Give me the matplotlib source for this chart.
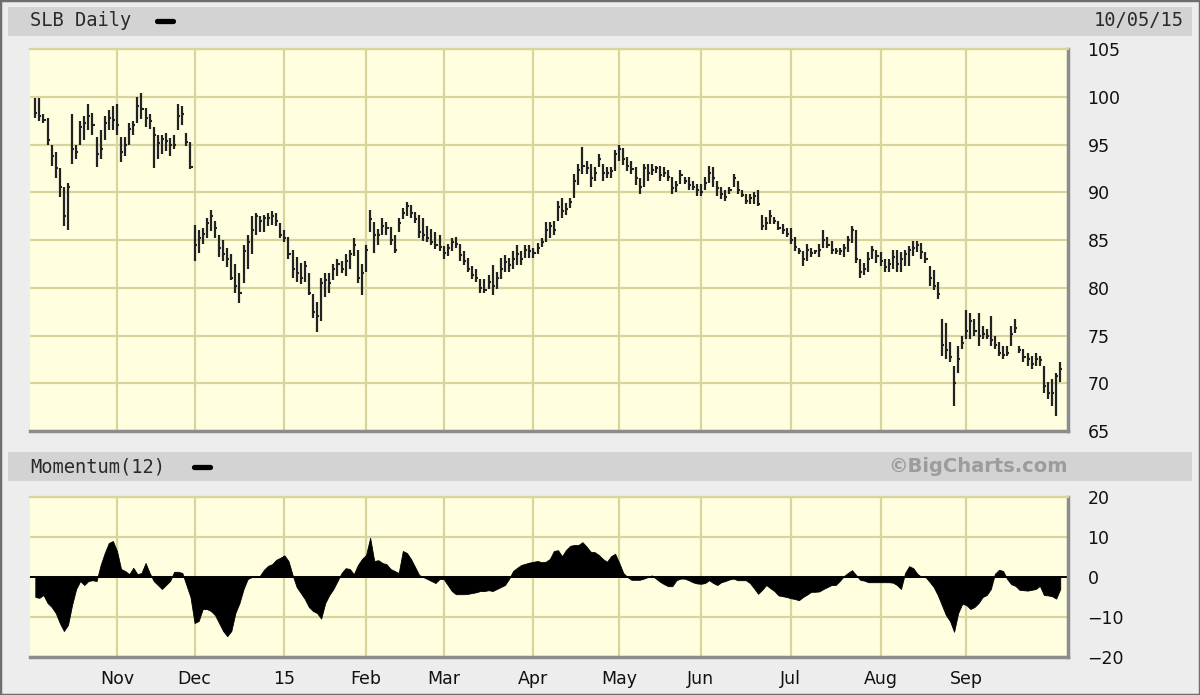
import matplotlib
matplotlib.use("Agg")
import matplotlib.pyplot as plt
import numpy as np
import pandas as pd
from matplotlib.patches import Rectangle
from matplotlib.lines import Line2D

# trading days on the chart, exchange holidays removed
holidays = ["2014-11-27", "2014-12-25", "2015-01-01", "2015-01-19", "2015-02-16",
            "2015-04-03", "2015-05-25", "2015-07-03", "2015-09-07"]
days = pd.bdate_range("2014-10-06", "2015-10-05")
days = days[~days.isin(pd.to_datetime(holidays))]

# daily bars, one row per month
high = [99.9, 99.9, 98.2, 97.8, 95.0, 94.2, 92.5, 90.5, 91.0, 98.2, 95.0, 97.5, 98.0, 99.2, 98.3, 95.8, 96.5, 98.0, 98.6, 99.0,
        99.2, 95.8, 95.8, 97.2, 97.5, 100.0, 100.4, 98.8, 98.2, 96.8, 96.0, 96.0, 96.2, 95.7, 96.0, 99.2, 99.0, 96.2, 95.3,
        86.6, 86.0, 86.3, 87.3, 88.1, 87.0, 85.5, 85.0, 84.2, 83.5, 82.5, 81.5, 84.5, 85.5, 87.5, 87.8, 87.5, 87.6, 87.8, 88.0, 87.8, 86.8,
        86.0, 85.3, 84.0, 83.2, 82.6, 82.8, 81.5, 79.3, 78.5, 81.0, 81.5, 81.5, 82.5, 83.0, 82.8, 83.5, 84.0, 85.2, 84.0, 82.5,
        84.5, 88.1, 86.9, 86.2, 87.3, 86.9, 86.4, 85.5, 87.3, 88.3, 89.0, 88.7, 87.9, 87.6, 87.3, 86.5, 86.2, 85.8, 85.5,
        84.4, 84.6, 85.2, 85.3, 84.6, 83.8, 83.1, 82.3, 82.0, 80.9, 80.9, 81.3, 82.4, 81.6, 83.1, 83.4, 83.1, 83.8, 84.5, 83.8, 84.5, 84.5,
        84.2, 84.7, 85.2, 86.9, 86.9, 87.0, 89.1, 89.4, 88.9, 89.4, 91.9, 93.0, 94.7, 93.3, 93.0, 92.6, 94.0, 93.0, 92.6, 92.6, 94.4,
        94.9, 94.6, 93.7, 93.3, 92.6, 91.5, 93.0, 93.0, 93.0, 92.8, 92.8, 92.6, 92.3, 91.6, 91.2, 92.3, 91.6, 91.6, 91.2, 90.9,
        90.9, 91.6, 92.8, 92.6, 91.2, 90.5, 90.2, 90.5, 91.9, 91.2, 90.2, 89.8, 89.8, 90.0, 90.2, 87.6, 87.4, 88.1, 87.4, 87.0, 86.7, 86.3,
        86.3, 85.3, 84.2, 83.9, 84.6, 84.2, 84.0, 84.6, 86.0, 85.3, 84.9, 84.2, 84.2, 84.6, 85.4, 86.5, 86.0, 83.0, 82.6, 83.7, 84.4, 84.0,
        83.7, 83.0, 83.0, 84.0, 84.0, 83.7, 84.0, 84.4, 84.9, 84.9, 84.7, 83.7, 82.3, 81.9, 80.6, 76.7, 76.3, 74.3, 71.8, 73.9, 75.0,
        77.7, 77.4, 76.7, 77.4, 76.0, 75.7, 77.0, 75.0, 74.3, 73.9, 73.9, 76.0, 76.7, 73.9, 73.6, 73.2, 72.9, 73.2, 72.9, 71.8, 70.1,
        70.4, 71.1, 72.2]
low = [97.8, 97.5, 97.3, 95.0, 92.8, 91.5, 89.5, 86.5, 86.0, 93.0, 93.5, 95.0, 95.5, 96.5, 96.0, 92.6, 93.5, 95.5, 96.5, 96.5,
       96.0, 93.2, 93.8, 95.0, 96.0, 97.3, 97.7, 96.8, 96.6, 92.5, 93.5, 94.0, 94.3, 93.8, 94.5, 96.5, 97.0, 94.8, 92.4,
       82.8, 83.6, 84.6, 85.2, 85.9, 85.2, 83.2, 82.8, 82.2, 80.8, 79.5, 78.4, 80.5, 82.0, 83.5, 85.5, 85.8, 85.8, 86.5, 86.6, 86.5, 85.2,
       84.8, 83.0, 81.0, 80.6, 80.4, 80.6, 79.2, 76.8, 75.4, 76.5, 79.0, 79.5, 80.8, 81.2, 81.5, 81.2, 82.0, 83.3, 80.5, 79.2,
       81.7, 85.8, 83.6, 84.5, 85.5, 85.5, 84.5, 83.6, 85.8, 87.2, 87.5, 87.3, 86.8, 85.2, 84.9, 84.8, 84.5, 84.1, 83.9,
       83.0, 83.3, 83.8, 84.2, 82.8, 82.4, 81.6, 80.9, 80.6, 79.5, 79.4, 79.9, 79.2, 79.9, 80.9, 81.6, 81.6, 82.0, 82.4, 82.4, 83.1, 83.1,
       83.1, 83.5, 84.3, 84.8, 85.2, 85.5, 87.0, 87.3, 87.6, 88.4, 89.4, 90.8, 91.9, 91.9, 90.5, 91.2, 92.6, 91.2, 91.5, 91.5, 92.2,
       93.3, 92.9, 92.2, 91.9, 90.8, 89.8, 90.5, 91.2, 91.8, 92.0, 91.2, 91.6, 91.2, 89.8, 90.0, 90.9, 90.9, 90.2, 90.2, 89.6,
       89.6, 90.2, 91.0, 90.5, 89.6, 89.3, 89.1, 89.8, 90.6, 89.8, 89.5, 88.8, 88.8, 88.8, 88.6, 86.0, 86.0, 86.7, 86.7, 86.0, 85.6, 85.3,
       84.6, 83.9, 83.5, 82.3, 82.8, 83.2, 83.5, 83.2, 84.2, 84.2, 83.5, 83.5, 83.4, 83.2, 83.7, 84.7, 82.6, 81.0, 81.3, 81.6, 83.0, 82.6,
       82.3, 81.6, 81.6, 82.0, 81.6, 81.6, 82.3, 82.3, 83.3, 83.7, 83.0, 82.6, 80.2, 79.8, 78.8, 72.9, 72.5, 72.2, 67.6, 71.1, 73.6,
       74.6, 74.6, 75.0, 73.9, 74.6, 74.6, 73.9, 73.6, 72.9, 72.5, 72.9, 73.9, 75.3, 73.2, 72.2, 71.8, 71.5, 71.8, 71.8, 69.0, 68.3,
       67.6, 66.6, 70.1]
close = [98.3, 98.0, 97.6, 95.5, 93.8, 92.5, 90.5, 87.5, 90.5, 94.5, 94.2, 96.8, 97.2, 98.0, 97.0, 94.0, 94.5, 97.3, 97.8, 97.6,
         97.0, 94.2, 95.0, 96.6, 97.0, 99.0, 98.7, 97.8, 97.5, 96.0, 95.2, 95.6, 95.4, 94.9, 95.0, 98.0, 98.2, 95.3, 92.6,
         84.5, 85.2, 85.6, 86.8, 87.5, 86.3, 84.2, 83.5, 83.0, 81.0, 80.2, 79.5, 83.8, 84.8, 86.0, 87.5, 87.0, 87.3, 87.3, 87.5, 87.0, 85.5,
         85.2, 83.5, 82.0, 81.5, 81.0, 82.3, 79.5, 77.5, 77.0, 80.5, 80.8, 80.5, 82.0, 82.5, 82.0, 82.8, 83.5, 84.5, 81.0, 81.5,
         84.0, 87.2, 85.5, 85.5, 86.5, 86.3, 85.0, 84.0, 86.8, 87.8, 88.6, 87.8, 87.2, 85.8, 85.5, 85.2, 84.8, 84.5, 84.3,
         83.6, 84.2, 84.8, 84.6, 83.4, 82.8, 82.0, 81.3, 81.0, 80.0, 79.8, 80.6, 80.2, 81.0, 82.0, 82.7, 82.4, 83.0, 83.5, 83.0, 84.0, 83.8,
         83.6, 84.2, 84.8, 86.0, 86.5, 86.0, 88.5, 88.0, 88.2, 89.0, 91.2, 92.3, 92.8, 92.5, 91.5, 92.0, 93.5, 92.0, 92.0, 92.2, 94.0,
         94.5, 93.5, 92.8, 92.4, 91.5, 90.5, 92.5, 92.0, 92.3, 92.5, 91.8, 92.0, 91.6, 90.4, 90.8, 91.8, 91.2, 90.8, 90.6, 90.2,
         90.0, 91.0, 92.0, 91.5, 90.4, 89.8, 89.5, 90.2, 91.5, 90.2, 89.7, 89.1, 89.4, 89.6, 88.8, 86.5, 86.8, 87.5, 87.0, 86.3, 86.0, 85.6,
         85.0, 84.3, 83.8, 83.0, 84.0, 83.6, 83.8, 84.0, 85.0, 84.5, 84.0, 83.8, 83.8, 84.2, 85.0, 86.0, 83.0, 81.6, 82.0, 83.0, 84.0, 83.3,
         82.8, 82.2, 82.5, 83.2, 82.5, 83.0, 83.5, 84.0, 84.2, 84.5, 83.7, 83.0, 81.0, 80.2, 79.3, 74.0, 73.5, 72.8, 70.0, 72.5, 74.2,
         75.5, 76.5, 75.5, 75.0, 75.2, 75.0, 74.5, 74.0, 73.2, 73.0, 73.2, 75.2, 75.8, 73.5, 72.8, 72.5, 72.0, 72.5, 72.4, 69.7, 69.0,
         69.0, 70.8, 71.5]

# Momentum(12) as drawn in the lower panel
momentum = [-5.0, -5.2, -4.5, -6.5, -7.5, -9.0, -11.5, -13.5, -12.0, -7.0,
            -3.0, -1.0, -2.0, -1.0, -0.8, -1.0, 3.0, 6.0, 8.5, 9.0,
            6.5, 2.0, 1.5, 0.7, 2.3, 0.7, 1.0, 3.5, 1.0, -1.0,
            -2.0, -3.0, -2.0, -1.0, 1.3, 1.3, 1.0, -2.0, -5.0, -11.5,
            -11.0, -8.0, -8.0, -8.5, -9.5, -11.5, -13.5, -14.8, -13.5, -9.0,
            -6.5, -3.0, -0.5, 0.0, 0.1, 0.3, 1.8, 2.8, 3.2, 4.3,
            4.8, 5.4, 4.0, 0.5, -2.5, -4.0, -5.5, -7.5, -8.5, -9.0,
            -10.4, -6.5, -4.5, -3.0, -1.0, 1.0, 2.2, 2.0, 0.7, 3.0,
            4.5, 5.5, 9.8, 4.0, 4.2, 3.5, 3.2, 2.0, 1.5, 1.0,
            6.5, 6.0, 4.5, 2.5, 0.5, 0.0, -0.5, -1.0, -1.5, -0.5,
            -0.5, -2.0, -3.5, -4.3, -4.3, -4.3, -4.2, -4.0, -3.8, -3.5,
            -3.5, -3.3, -3.5, -3.0, -2.5, -2.0, -0.5, 1.5, 2.3, 3.0,
            3.3, 3.6, 3.8, 4.0, 3.7, 3.8, 4.5, 6.5, 6.7, 5.2,
            6.8, 7.8, 8.0, 8.0, 8.7, 7.6, 6.3, 6.2, 5.5, 4.5,
            3.8, 5.2, 5.8, 3.5, 1.0, 0.0, -0.7, -0.7, -0.7, -0.4,
            0.0, 0.4, -0.4, -1.2, -1.8, -2.3, -2.3, -0.8, -0.4, -0.4,
            -0.8, -1.3, -1.6, -1.7, -1.5, -0.8, -1.5, -2.0, -1.3, -1.0,
            -0.6, -0.4, -0.8, -0.8, -0.8, -1.5, -2.8, -4.2, -3.2, -2.0,
            -2.8, -3.5, -4.6, -4.8, -5.0, -5.3, -5.5, -5.8, -5.0, -4.4,
            -3.7, -3.7, -3.6, -3.0, -2.5, -2.0, -2.0, -1.0, 0.2, 1.0,
            1.7, 0.5, -0.7, -0.9, -1.3, -1.3, -1.3, -1.3, -1.3, -1.3,
            -1.4, -2.0, -3.0, 1.0, 2.7, 2.2, 0.8, 0.0, 0.0, -1.2,
            -2.5, -4.5, -7.0, -9.5, -11.0, -13.7, -9.0, -6.7, -7.0, -8.0,
            -7.5, -6.5, -5.0, -4.5, -3.0, 0.8, 1.8, 1.5, -0.5, -1.8,
            -2.2, -3.2, -3.3, -3.4, -3.2, -3.0, -2.2, -4.5, -4.6, -4.8,
            -5.4, -3.0]

price_ticks = [65, 70, 75, 80, 85, 90, 95, 100, 105]
mom_ticks = [-20, -10, 0, 10, 20]

x = np.arange(len(days))
# gridline at the first session of every month (the last, Oct 2015, has none)
month_pos = [i for i in range(1, len(days)) if days[i].month != days[i - 1].month][:-1]
month_lab = [days[i].strftime("%y") if days[i].month == 1 else days[i].strftime("%b") for i in month_pos]

panel = "#ffffe0"
gridc = "#d8d49c"
shadow = "#8c8c8c"

W, H = 1200, 695
fig = plt.figure(figsize=(12, 6.95), dpi=100, facecolor="#ededed")
ax1 = fig.add_axes([30 / W, 1 - 431 / H, 1038 / W, 382 / H])
ax2 = fig.add_axes([30 / W, 1 - 657 / H, 1038 / W, 160 / H])

# header bands
for top in (7, 452):
    fig.add_artist(Rectangle((8 / W, 1 - (top + 29) / H), 1184 / W, 29 / H,
                             transform=fig.transFigure, facecolor="#d3d3d3",
                             edgecolor="none", zorder=0))
fig.add_artist(Rectangle((0, 0), 1, 1, transform=fig.transFigure, fill=False,
                         edgecolor="#6e6e6e", lw=2.5, zorder=5))

mono = "DejaVu Sans Mono"
fig.text(30 / W, 1 - 21 / H, "SLB Daily", family=mono, fontsize=13.5, va="center", color="#2a2a2a")
fig.add_artist(Line2D([157 / W, 173 / W], [1 - 21 / H] * 2, transform=fig.transFigure,
                      color="black", lw=3.8, solid_capstyle="round"))
fig.text(1184 / W, 1 - 21 / H, "10/05/15", family=mono, fontsize=13.5, va="center", ha="right", color="#2a2a2a")
fig.text(30 / W, 1 - 467 / H, "Momentum(12)", family=mono, fontsize=13.5, va="center", color="#2a2a2a")
fig.add_artist(Line2D([194 / W, 210 / W], [1 - 467 / H] * 2, transform=fig.transFigure,
                      color="black", lw=3.8, solid_capstyle="round"))
fig.text(1068 / W, 1 - 467 / H, "\u00a9BigCharts.com", fontsize=14, fontweight="bold",
         va="center", ha="right", color="#9c9c9c")

for ax in (ax1, ax2):
    ax.set_facecolor(panel)
    ax.set_xlim(-1.3, 252.9)
    ax.set_xticks(month_pos)
    ax.grid(True, color=gridc, lw=1.6)
    ax.set_axisbelow(True)
    ax.yaxis.tick_right()
    ax.tick_params(length=0, labelsize=12.5, colors="#111111")
    ax.tick_params(axis="y", pad=14)
    ax.spines["left"].set_visible(False)
    ax.spines["top"].set_color(gridc)
    ax.spines["top"].set_linewidth(1.6)
    for s in ("right", "bottom"):
        ax.spines[s].set_color(shadow)
        ax.spines[s].set_linewidth(2.5)

# price bars: high-low line plus close tick
ax1.vlines(x, low, high, color="#222222", lw=1.6)
ax1.hlines(close, x, x + 0.5, color="#222222", lw=1.5)
ax1.set_ylim(65, 105)
ax1.set_yticks(price_ticks)
ax1.set_xticklabels([])

# momentum area
ax2.fill_between(x, momentum, 0, color="black", lw=0.6, edgecolor="black")
ax2.axhline(0, color="black", lw=1.4)
ax2.set_ylim(-20, 20)
ax2.set_yticks(mom_ticks)
ax2.set_xticklabels(month_lab)
ax2.tick_params(axis="x", pad=9)

fig.savefig("out.png", dpi=100, facecolor=fig.get_facecolor())
